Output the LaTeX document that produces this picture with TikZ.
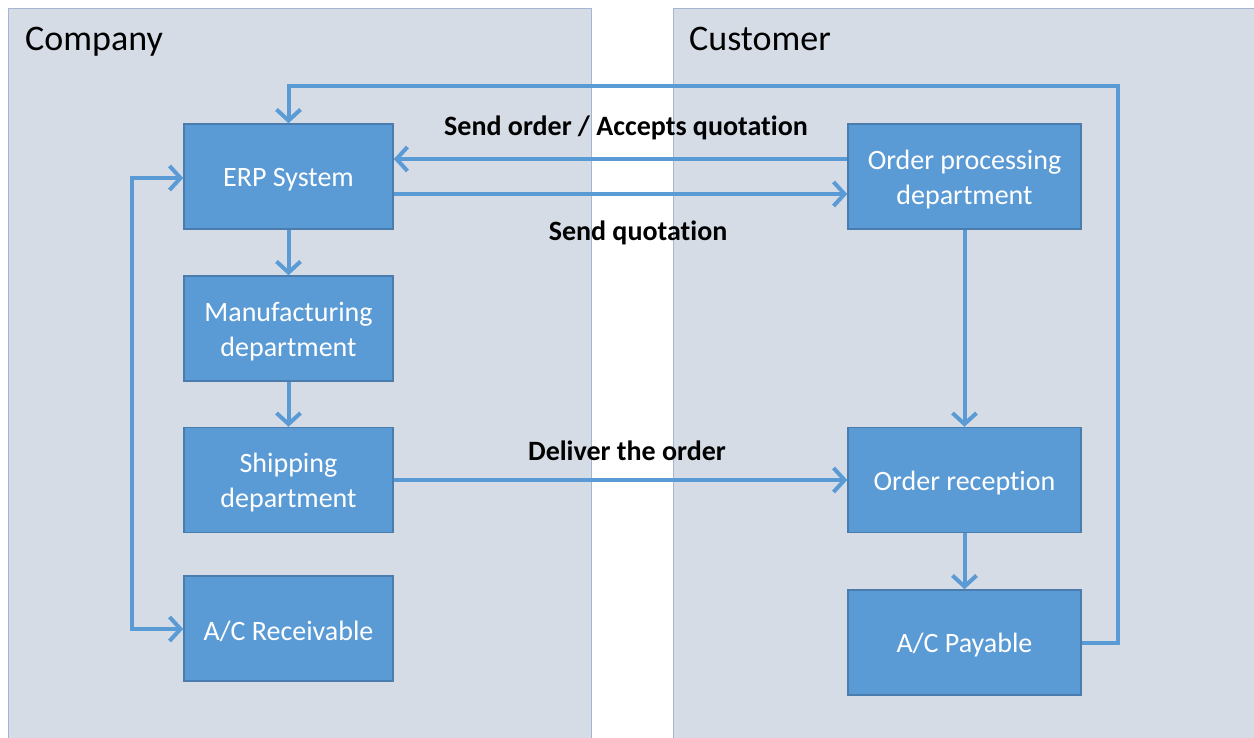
\documentclass[tikz,border=0pt]{standalone}
\usepackage{fontspec}
\setmainfont{Carlito}[Ligatures=NoCommon]
\usetikzlibrary{arrows.meta}
\definecolor{panelfill}{HTML}{D5DCE6}
\definecolor{paneledge}{HTML}{A3B7D0}
\definecolor{boxfill}{HTML}{5B9BD5}
\definecolor{boxedge}{HTML}{4A7DAE}
\definecolor{flow}{HTML}{5B9BD5}
\tikzset{
  panel/.style={fill=panelfill, draw=paneledge, line width=0.8pt},
  paneltitle/.style={anchor=base west, inner sep=0pt, font=\fontsize{36}{40}\selectfont},
  unit/.style={fill=boxfill, draw=boxedge, line width=1.5pt, inner sep=0pt,
    label={[unittext]center:#1}},
  unittext/.style={text=white, align=center, inner sep=0pt, yshift=-3pt,
    font=\fontsize{28}{35}\selectfont},
  narrow/.style={minimum width=209pt, minimum height=105pt},
  wide/.style={minimum width=233pt, minimum height=105pt},
  flowline/.style={draw=flow, line width=4pt,
    -{Straight Barb[length=11pt, width=24pt, line width=4pt]}},
  flowlabel/.style={font=\bfseries\fontsize{28}{34}\selectfont, inner sep=0pt}
}
\begin{document}
\begin{tikzpicture}[x=1pt, y=-1pt]
  \useasboundingbox (0,0) rectangle (1254,738);
  \fill[white] (0,0) rectangle (1254,738);

  % swim lanes
  \draw[panel] (8,8) rectangle (591,760);
  \draw[panel] (673,8) rectangle (1280,760);
  \node[paneltitle] (tcompany) at (25,51) {Company};
  \node[paneltitle] (tcustomer) at (689,51) {Customer};

  % company units
  \node[narrow, unit={ERP System}] (erp) at (288.5,176.5) {};
  \node[narrow, unit={Manufacturing\\department}] (mfg) at (288.5,328.5) {};
  \node[narrow, unit={Shipping\\department}] (ship) at (288.5,480) {};
  \node[narrow, unit={A/C Receivable}] (recv) at (288.5,628.5) {};

  % customer units
  \node[wide, unit={Order processing\\department}] (proc) at (964.5,176.5) {};
  \node[wide, unit={Order reception}] (recp) at (964.5,480) {};
  \node[wide, unit={A/C Payable}] (pay) at (964.5,642.5) {};

  % routing points
  \coordinate (loopR1) at (1118,642.5);
  \coordinate (loopR2) at (1118,86);
  \coordinate (loopR3) at (288.5,86);
  \coordinate (loopL1) at (132,178);
  \coordinate (loopL2) at (132,629);

  % flows
  \draw[flowline] (pay.east) -- (loopR1) -- (loopR2) -- (loopR3) -- (erp.north);
  \draw[flowline] (proc.west |- 0,159) -- (erp.east |- 0,159);
  \draw[flowline] (erp.east |- 0,194) -- (proc.west |- 0,194);
  \draw[flowline] (erp.south) -- (mfg.north);
  \draw[flowline] (mfg.south) -- (ship.north);
  \draw[flowline] (ship.east) -- (recp.west);
  \draw[flowline] (proc.south) -- (recp.north);
  \draw[flowline] (recp.south) -- (pay.north);
  \draw[flowline, {Straight Barb[length=11pt, width=24pt, line width=4pt]}-{Straight Barb[length=11pt, width=24pt, line width=4pt]}]
    (erp.west |- loopL1) -- (loopL1) -- (loopL2) -- (recv.west |- loopL2);

  % flow captions
  \node[flowlabel] (lorder) at (626,128) {Send order / Accepts quotation};
  \node[flowlabel] (lquote) at (638,233) {Send quotation};
  \node[flowlabel] (ldeliver) at (627,451) {Deliver the order};
\end{tikzpicture}
\end{document}
